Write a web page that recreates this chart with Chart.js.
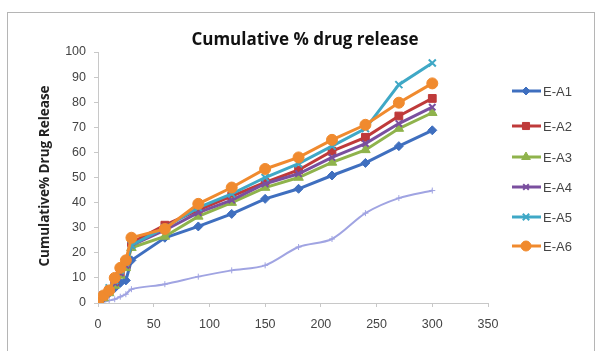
<!DOCTYPE html>
<html>
<head>
<meta charset="utf-8">
<script src="https://cdn.jsdelivr.net/npm/chart.js@4/dist/chart.umd.min.js"></script>
<style>
  html, body { margin: 0; padding: 0; background: #fff; }
  #wrap { position: relative; width: 599px; height: 351px; overflow: hidden; }
  #frame { position: absolute; left: 7px; top: 12px; width: 588px; height: 360px; border: 1px solid #b5b5b5; box-sizing: border-box; pointer-events: none; }
  canvas { position: absolute; left: 0; top: 0; }
</style>
</head>
<body>
<div id="wrap">
  <canvas id="c" width="599" height="351"></canvas>
  <div id="frame"></div>
</div>
<script>
const timePoints = [0, 5, 10, 15, 20, 25, 30, 60, 90, 120, 150, 180, 210, 240, 270, 300];
const seriesNames = ["E-A1", "E-A2", "E-A3", "E-A4", "E-A5", "E-A6"];
const eA1 = [0, 2, 4, 6, 8, 9, 17, 26, 30.5, 35.5, 41.5, 45.5, 50.8, 55.8, 62.5, 68.8];
const eA2 = [0, 3, 5, 8, 12, 15, 24, 31, 37, 42.6, 48, 53, 60.5, 66, 74.5, 81.5];
const eA3 = [0, 2, 4, 7, 11, 14, 22, 26.5, 34.5, 40, 46, 50, 56, 61, 69.5, 75.8];
const eA4 = [0, 3, 5, 8, 12, 15, 23, 29, 36, 41, 47.5, 51.5, 58, 63.5, 71.5, 78];
const eA5 = [0, 3, 6, 9, 13, 16, 23, 30, 38, 43.5, 50, 55.5, 62.5, 69.5, 87, 95.6];
const eA6 = [0, 3, 5, 10, 14, 17, 26, 29.5, 39.5, 46, 53.4, 58, 65, 71, 79.8, 87.5];
const extraSeries = [0, 0.5, 1, 1.5, 2.5, 3.5, 5.5, 7.5, 10.5, 13, 15, 22.3, 25.5, 35.8, 41.8, 44.8];
const xTicks = [0, 50, 100, 150, 200, 250, 300, 350];
const yTicks = [0, 10, 20, 30, 40, 50, 60, 70, 80, 90, 100];

const styles = [
  { color: '#3f6fbf', point: 'rectRot', r: 4.5 },
  { color: '#bf3a3a', point: 'rect', r: 5.5 },
  { color: '#8fb34c', point: 'triangle', r: 5.5 },
  { color: '#7a4f9f', point: 'crossRot', r: 4.5 },
  { color: '#3fa8c6', point: 'crossRot', r: 5 },
  { color: '#f08a2e', point: 'circle', r: 5.5 }
];
const allValues = [eA1, eA2, eA3, eA4, eA5, eA6];

const toXY = arr => arr.map((v, i) => ({ x: timePoints[i], y: v }));

const datasets = [{
  label: '',
  data: toXY(extraSeries),
  borderColor: '#a0a4e2',
  backgroundColor: '#a0a4e2',
  borderWidth: 2,
  pointStyle: 'cross',
  pointRadius: 3,
  pointBorderWidth: 1,
  tension: 0.3,
  order: 10
}];
allValues.forEach((vals, i) => {
  datasets.push({
    label: seriesNames[i],
    data: toXY(vals),
    borderColor: styles[i].color,
    backgroundColor: styles[i].color,
    borderWidth: 3,
    pointStyle: styles[i].point,
    pointRadius: styles[i].r,
    pointBorderWidth: (styles[i].point.startsWith('cross')) ? 2 : 1,
    tension: 0,
    order: 6 - i
  });
});

const CA = { left: 98, right: 488, top: 52, bottom: 303 };

const decor = {
  id: 'decor',
  afterDraw(chart) {
    const ctx = chart.ctx;
    ctx.save();
    // Title
    ctx.fillStyle = '#111';
    ctx.font = 'bold 17px "Open Sans", "Liberation Sans", sans-serif';
    ctx.textAlign = 'center';
    ctx.textBaseline = 'middle';
    ctx.fillText('Cumulative % drug release', 305, 40);
    // Y title
    ctx.save();
    ctx.translate(45, 176);
    ctx.rotate(-Math.PI / 2);
    ctx.font = 'bold 13.5px "Open Sans", "Liberation Sans", sans-serif';
    ctx.fillStyle = '#222';
    ctx.fillText('Cumulative% Drug Release', 0, 0);
    ctx.restore();
    // Legend
    const ys = [91, 126, 157, 187, 217, 246];
    ctx.font = '13px "Liberation Sans Narrow", "Liberation Sans", sans-serif';
    ctx.textAlign = 'left';
    for (let i = 0; i < 6; i++) {
      const y = ys[i];
      ctx.strokeStyle = styles[i].color;
      ctx.lineWidth = 3;
      ctx.beginPath();
      ctx.moveTo(512, y);
      ctx.lineTo(541, y);
      ctx.stroke();
      ctx.fillStyle = styles[i].color;
      ctx.lineWidth = styles[i].point.startsWith('cross') ? 2 : 1;
      Chart.helpers.drawPoint(ctx, {
        pointStyle: styles[i].point,
        radius: styles[i].r - 0.5,
        rotation: 0,
        borderWidth: ctx.lineWidth
      }, 526, y);
      ctx.fillStyle = '#444';
      ctx.fillText(seriesNames[i], 543, y + 1);
    }
    ctx.restore();
  }
};

new Chart(document.getElementById('c'), {
  type: 'line',
  data: { datasets },
  options: {
    responsive: false,
    animation: false,
    layout: { padding: { left: 0, top: CA.top, right: 599 - CA.right, bottom: 0 } },
    plugins: { legend: { display: false }, title: { display: false }, tooltip: { enabled: false } },
    scales: {
      x: {
        type: 'linear',
        min: 0, max: 350,
        afterFit: s => { s.height = 351 - CA.bottom; },
        afterBuildTicks: s => { s.ticks = xTicks.map(v => ({ value: v })); },
        grid: { drawOnChartArea: false, drawTicks: true, tickLength: 4, color: '#c8c8c8' },
        border: { color: '#c8c8c8', width: 1 },
        ticks: { color: '#444', padding: 10, font: { size: 12.5, family: '"Liberation Sans Narrow", "Liberation Sans", sans-serif' }, maxRotation: 0 }
      },
      y: {
        min: 0, max: 100,
        afterFit: s => { s.width = CA.left; },
        afterBuildTicks: s => { s.ticks = yTicks.map(v => ({ value: v })); },
        grid: { drawOnChartArea: false, drawTicks: true, tickLength: 4, color: '#c8c8c8' },
        border: { color: '#c8c8c8', width: 1 },
        ticks: { color: '#444', padding: 8, font: { size: 12.5, family: '"Liberation Sans Narrow", "Liberation Sans", sans-serif' } }
      }
    }
  },
  plugins: [decor]
});
</script>
</body>
</html>
